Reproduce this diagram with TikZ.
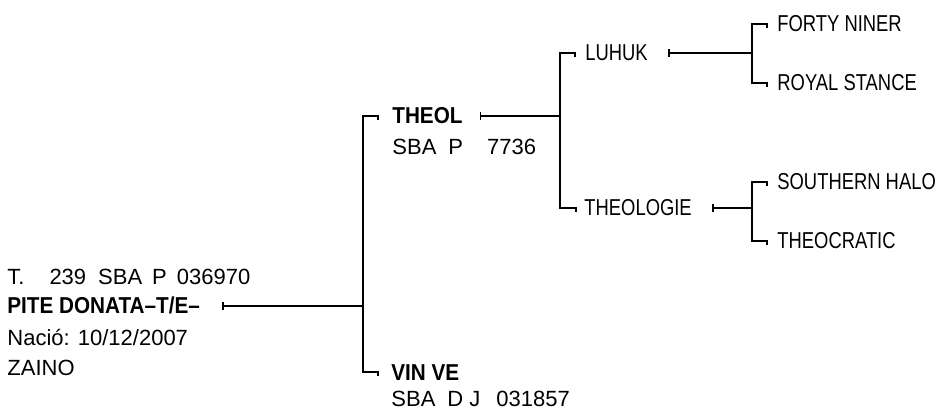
\documentclass[tikz,border=0pt]{standalone}
\usepackage{fontspec}
\setmainfont[FakeStretch=0.80]{Liberation Sans}
\newfontfamily\infofont{Liberation Sans}
\newfontfamily\champfont[FakeStretch=0.90]{Liberation Sans}
\usetikzlibrary{arrows.meta,calc}
\tikzset{
  horse/.style={anchor=west,inner sep=0pt,text height=8pt,text depth=0pt,font=\fontsize{11.5}{13}\selectfont},
  champ/.style={horse,font=\fontsize{11.5}{13}\champfont\bfseries},
  info/.style={horse,font=\fontsize{11}{13}\infofont},
  link/.style={line width=0.7pt,line cap=butt},
  sireline/.style={link,arrows={Bar[width=4pt]-}},
}
\begin{document}
\begin{tikzpicture}[x=0.5pt,y=-0.5pt]
\useasboundingbox (0,0) rectangle (942,411);
\def\ga{363}\def\gb{560}\def\gc{752}\def\gap{20}
\node[info] (rootid) at (7,277) {T.\hspace{12.5pt}239\hspace{6pt}SBA\hspace{5pt}P\hspace{5pt}036970};
\node[champ] (root) at (7,306) {PITE DONATA–T/E–};
\node[info] (rootborn) at (7,337) {Nació: 10/12/2007};
\node[info] (rootcoat) at (7,367) {ZAINO};
\node[champ] (sire) at (392,116) {THEOL};
\node[info] (sireid) at (392,147) {SBA\hspace{6pt}P\hspace{12pt}7736};
\node[champ] (dam) at (391,372) {VIN VE};
\node[info] (damid) at (391,398) {SBA\hspace{6pt}D J\hspace{8pt}031857};
\node[horse] (ss) at (585,53) {LUHUK};
\node[horse] (sd) at (584,208) {THEOLOGIE};
\node[horse] (sss) at (777,24) {FORTY NINER};
\node[horse] (ssd) at (777,83) {ROYAL STANCE};
\node[horse] (sds) at (777,182) {SOUTHERN HALO};
\node[horse] (sdd) at (777,241) {THEOCRATIC};
\coordinate (j0) at (\ga,306); \coordinate (j1) at (\gb,116);
\coordinate (j2) at (\gc,53); \coordinate (j3) at (\gc,208);
\draw[sireline] ($(root.east)+(22,0)$) -- (j0);
\draw[link] (j0) |- ($(sire.west)+(-14,0)$) -- ++(0,4);
\draw[link] (j0) |- ($(dam.west)+(-13,0)$) -- ++(0,4);
\draw[sireline] ($(sire.east)+(17,0)$) -- (j1);
\draw[link] (j1) |- ($(ss.west)+(-10,0)$) -- ++(0,4);
\draw[link] (j1) |- ($(sd.west)+(-8,0)$) -- ++(0,4);
\draw[sireline] ($(ss.east)+(\gap,0)$) -- (j2);
\draw[link] (j2) |- ($(sss.west)+(-10,0)$) -- ++(0,4);
\draw[link] (j2) |- ($(ssd.west)+(-10,0)$) -- ++(0,4);
\draw[sireline] ($(sd.east)+(\gap,0)$) -- (j3);
\draw[link] (j3) |- ($(sds.west)+(-10,0)$) -- ++(0,4);
\draw[link] (j3) |- ($(sdd.west)+(-10,0)$) -- ++(0,4);
\end{tikzpicture}
\end{document}
